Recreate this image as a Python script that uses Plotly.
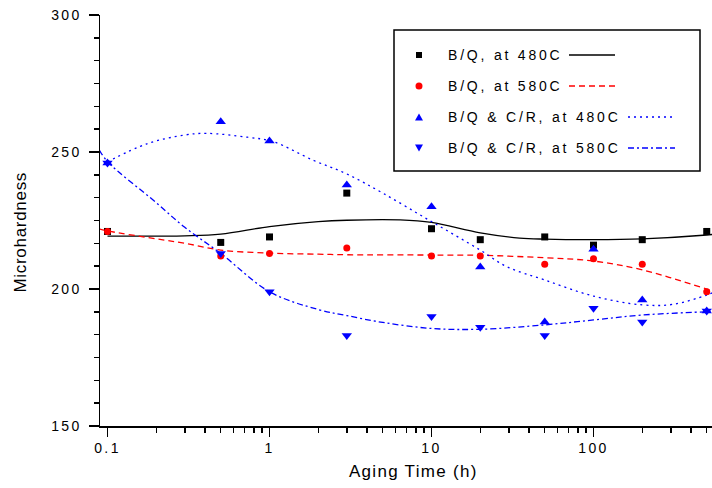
import plotly.graph_objects as go

# ---------------- data ----------------
time_h = [0.1, 0.5, 1, 3, 10, 20, 50, 100, 200, 500]
bq480 = [221, 217, 219, 235, 222, 218, 219, 216, 218, 221]
bq580 = [221, 212, 213, 215, 212, 212, 209, 211, 209, 199]
cr480 = [246, 261, 254, 238, 230, 208, 188, 214.5, 196, 192]
cr580 = [246, 213, 199, 183, 190, 186, 183, 193, 188, 192]

# fitted curves
fit_bq480_x = [0.1, 0.3, 0.5, 1, 2, 3, 6.4, 10, 20, 35, 50, 100, 200, 500, 560]
fit_bq480_y = [219.3, 219.4, 220, 222.8, 224.6, 225.1, 225.2, 224.3, 220.5, 218.6, 218.2, 218, 218.3, 219.7, 220]

fit_bq580_x = [0.089, 0.1, 0.2, 0.3, 0.5, 1, 2, 3, 10, 20, 50, 100, 200, 500, 560]
fit_bq580_y = [221.9, 221.2, 218.3, 216.7, 214.2, 213.1, 212.7, 212.5, 212.4, 212.3, 211.4, 210.2, 207, 200, 199.2]

fit_cr480_x = [0.1, 0.175, 0.3, 0.41, 0.73, 1.05, 1.86, 3, 5, 10, 20, 29, 50, 100, 200, 310, 500, 560]
fit_cr480_y = [246.4, 253, 256.2, 256.8, 255.4, 253.8, 247, 242, 235, 224.6, 214.2, 208.2, 203.3, 197.4, 194.2, 194.4, 197.8, 199]

fit_cr580_x = [0.089, 0.1, 0.2, 0.3, 0.5, 1, 2, 3, 5, 10, 20, 50, 100, 200, 500, 560]
fit_cr580_y = [250.7, 246.5, 231.5, 222.5, 213, 199, 192.5, 190.3, 187.8, 185.6, 185.3, 186.9, 188.7, 190.5, 191.7, 191.8]

series_names = ["B/Q, at 480C", "B/Q, at 580C", "B/Q & C/R, at 480C", "B/Q & C/R, at 580C"]
x_title = "Aging Time (h)"
y_title = "Microhardness"

x_tickvals = [0.1, 1, 10, 100]
x_ticktext = ["0.1", "1", "10", "100"]
x_minorvals = [0.2, 0.3, 0.4, 0.5, 0.6, 0.7, 0.8, 0.9,
               2, 3, 4, 5, 6, 7, 8, 9,
               20, 30, 40, 50, 60, 70, 80, 90,
               200, 300, 400, 500]
y_tickvals = [150, 200, 250, 300]
y_ticktext = ["150", "200", "250", "300"]

# ---------------- styles ----------------
FONT = "Liberation Sans, Arial, sans-serif"
BLACK, RED, BLUE = "#000000", "#ff0000", "#0000ff"
DASH_RED = "6px,4px"
DASH_DOT = "2px,4px"
DASH_DASHDOT = "6px,3px,2px,3px"
LW = 1.3

fig = go.Figure()

curves = [
    (fit_bq480_x, fit_bq480_y, BLACK, "solid"),
    (fit_bq580_x, fit_bq580_y, RED, DASH_RED),
    (fit_cr480_x, fit_cr480_y, BLUE, DASH_DOT),
    (fit_cr580_x, fit_cr580_y, BLUE, DASH_DASHDOT),
]
for cx, cy, col, dash in curves:
    fig.add_trace(go.Scatter(x=cx, y=cy, mode="lines", line_shape="spline",
                             line=dict(color=col, width=LW, dash=dash),
                             hoverinfo="skip", showlegend=False))

points = [
    (bq480, BLACK, "square", 7),
    (bq580, RED, "circle", 7),
    (cr480, BLUE, "triangle-up", 9),
    (cr580, BLUE, "triangle-down", 9),
]
for (vals, col, sym, sz), name in zip(points, series_names):
    fig.add_trace(go.Scatter(x=time_h, y=vals, mode="markers", name=name,
                             marker=dict(color=col, symbol=sym, size=sz, line=dict(width=0)),
                             showlegend=False))

# ---------------- manual legend (Origin style: marker, text, line sample) ----------------
W, H = 712, 488
PLOT_L, PLOT_T, PLOT_R, PLOT_B = 100, 15, 712, 426
PW, PH = float(PLOT_R - PLOT_L), float(PLOT_B - PLOT_T)
def px_x(px):
    return (px - PLOT_L) / PW
def px_y(py):
    return (PLOT_B - py) / PH

shapes = []
annotations = []
shapes.append(dict(type="rect", xref="paper", yref="paper",
                   x0=px_x(394), x1=px_x(700), y0=px_y(171), y1=px_y(30),
                   line=dict(color="black", width=1.5), fillcolor="white", layer="above"))
entry_py = [55, 86, 117, 148]
line_x = [(569, 615), (569, 615), (628, 672), (628, 675)]
legend_style = [
    (BLACK, "solid", "square"),
    (RED, DASH_RED, "circle"),
    (BLUE, DASH_DOT, "up"),
    (BLUE, DASH_DASHDOT, "down"),
]
for name, py, (lx0, lx1), (col, dash, mk) in zip(series_names, entry_py, line_x, legend_style):
    xa, ya = px_x(419), px_y(py)
    common = dict(xref="paper", yref="paper", xsizemode="pixel", ysizemode="pixel",
                  xanchor=xa, yanchor=ya, fillcolor=col, line=dict(width=0), layer="above")
    if mk == "square":
        shapes.append(dict(type="rect", x0=-3, x1=3, y0=-3, y1=3, **common))
    elif mk == "circle":
        shapes.append(dict(type="circle", x0=-3.5, x1=3.5, y0=-3.5, y1=3.5, **common))
    elif mk == "up":
        shapes.append(dict(type="path", path="M -4,-3.5 L 4,-3.5 L 0,3.5 Z", **common))
    else:
        shapes.append(dict(type="path", path="M -4,3.5 L 4,3.5 L 0,-3.5 Z", **common))
    annotations.append(dict(x=px_x(446), y=ya, xref="paper", yref="paper", text=name,
                            showarrow=False, xanchor="left", yanchor="middle", align="left",
                            font=dict(family=FONT, size=14, color="black")))
    shapes.append(dict(type="line", xref="paper", yref="paper",
                       x0=px_x(lx0), x1=px_x(lx1), y0=ya, y1=ya,
                       line=dict(color=col, width=LW, dash=dash), layer="above"))

# axis titles (Origin positions)
annotations.append(dict(x=px_x(413), y=px_y(471), xref="paper", yref="paper", text=x_title,
                        showarrow=False, xanchor="center", yanchor="middle",
                        font=dict(family=FONT, size=17, color="black")))
annotations.append(dict(x=px_x(20), y=px_y(232), xref="paper", yref="paper", text=y_title,
                        showarrow=False, xanchor="center", yanchor="middle", textangle=-90,
                        font=dict(family=FONT, size=17, color="black")))

# ---------------- axes ----------------
xr = [-1.0463, 2.7315]
yr = [150, 300]
axis_common = dict(showgrid=False, zeroline=False, showline=True, linecolor="black",
                   linewidth=1.5, tickcolor="black", tickwidth=1.5)

fig.update_layout(
    width=W, height=H,
    margin=dict(l=PLOT_L, r=W - PLOT_R, t=PLOT_T, b=H - PLOT_B, autoexpand=False),
    plot_bgcolor="white", paper_bgcolor="white",
    showlegend=False,
    font=dict(family=FONT, size=14, color="black"),
    xaxis=dict(type="log", range=xr, tickvals=x_tickvals, ticktext=x_ticktext,
               ticks="outside", ticklen=9, ticklabeloverflow="allow",
               minor=dict(tickvals=x_minorvals, ticks="outside", ticklen=5,
                          tickwidth=1.5, tickcolor="black", showgrid=False),
               **axis_common),
    yaxis=dict(range=yr, tickvals=y_tickvals, ticktext=y_ticktext,
               ticks="outside", ticklen=10, ticklabelstandoff=4, ticklabeloverflow="allow",
               minor=dict(dtick=50 / 6, tick0=150, ticks="outside", ticklen=5,
                          tickwidth=1.5, tickcolor="black", showgrid=False),
               **axis_common),
    xaxis2=dict(type="log", range=xr, overlaying="x", side="top", anchor="y",
                tickvals=x_tickvals, showticklabels=False, ticks="inside", ticklen=8,
                minor=dict(tickvals=x_minorvals, ticks="inside", ticklen=4,
                           tickwidth=1.5, tickcolor="black", showgrid=False),
                **axis_common),
    yaxis2=dict(range=yr, overlaying="y", side="right", anchor="x",
                tickvals=y_tickvals, showticklabels=False, ticks="inside", ticklen=8,
                minor=dict(dtick=50 / 6, tick0=150, ticks="inside", ticklen=4,
                           tickwidth=1.5, tickcolor="black", showgrid=False),
                **axis_common),
    shapes=shapes,
    annotations=annotations,
)

# Place the figure flush at the window origin, and mimic Origin's wide letter spacing.
post_js = """
document.documentElement.style.margin = '0';
document.documentElement.style.overflow = 'hidden';
document.body.style.margin = '0';
document.body.style.overflow = 'hidden';
function spaceText(){
  document.querySelectorAll('.xtick text, .ytick text').forEach(function(t){ t.style.letterSpacing = '2.4px'; });
  document.querySelectorAll('g.annotation').forEach(function(g){
    var i = parseInt(g.getAttribute('data-index'));
    var t = g.querySelector('text');
    if(!t) return;
    if(i < 4) { t.style.letterSpacing = '2.8px'; }
    else if(i === 4) { t.style.letterSpacing = '1.3px'; }
    else { t.style.letterSpacing = '0.7px'; }
  });
}
spaceText();
setTimeout(spaceText, 30);
"""

fig.write_html("out.html", post_script=post_js,
               config={"displayModeBar": False, "staticPlot": True})
